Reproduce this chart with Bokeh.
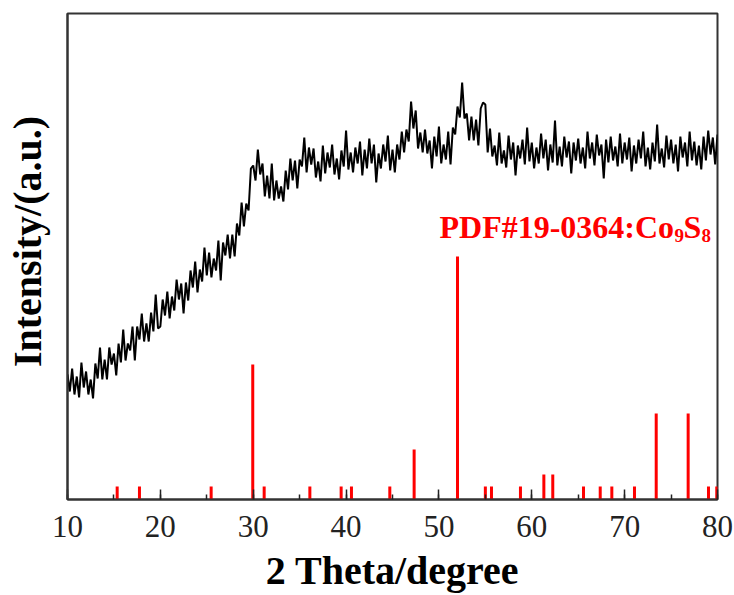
from bokeh.plotting import figure
from bokeh.models import Range1d, SingleIntervalTicker, FixedTicker, Label
from bokeh.embed import file_html
from bokeh.resources import INLINE

# ---- measured XRD pattern (2 theta from 10 to 80 deg, step 0.25 deg), arbitrary units
two_theta_start = 10.0
two_theta_step = 0.25
intensity = [
    125, 108, 131, 105, 123, 102, 137, 112, 128, 105, 120, 101, 136, 121, 152, 120, 140, 120, 152, 135,
    146, 124, 156, 137, 170, 139, 156, 149, 173, 139, 173, 160, 186, 158, 176, 158, 187, 168, 205, 171,
    173, 200, 184, 208, 181, 203, 189, 220, 200, 216, 186, 217, 199, 229, 212, 238, 207, 230, 218, 252,
    224, 247, 222, 241, 229, 259, 219, 257, 244, 265, 241, 265, 243, 276, 264, 297, 273, 296, 289, 331,
    334, 319, 350, 325, 336, 303, 324, 301, 336, 299, 319, 301, 313, 298, 329, 310, 341, 319, 339, 311,
    340, 333, 362, 327, 352, 335, 351, 322, 338, 318, 354, 326, 347, 332, 355, 325, 341, 320, 349, 333,
    369, 330, 347, 327, 352, 336, 358, 324, 350, 331, 361, 336, 355, 317, 346, 331, 355, 338, 364, 329,
    350, 327, 355, 340, 368, 347, 370, 358, 398, 371, 389, 351, 367, 347, 370, 346, 359, 331, 363, 343,
    373, 336, 355, 340, 368, 335, 372, 365, 393, 382, 417, 381, 386, 359, 383, 359, 380, 354, 391, 397,
    395, 347, 371, 343, 354, 334, 367, 336, 349, 332, 364, 340, 357, 324, 354, 341, 360, 335, 372, 338,
    357, 331, 352, 336, 366, 341, 360, 329, 355, 337, 379, 334, 353, 333, 363, 342, 358, 326, 357, 339,
    361, 336, 352, 331, 368, 341, 357, 334, 365, 344, 355, 321, 360, 337, 363, 339, 353, 333, 366, 336,
    357, 340, 362, 328, 354, 336, 360, 341, 368, 333, 352, 330, 357, 338, 375, 336, 351, 332, 364, 340,
    360, 336, 355, 328, 363, 342, 357, 333, 368, 339, 358, 334, 354, 330, 363, 339, 369, 345, 362, 335,
    365,
]
two_theta = [two_theta_start + two_theta_step * i for i in range(len(intensity))]

# ---- reference pattern PDF#19-0364 (Co9S8): positions and relative heights
pdf_positions = [15.35, 17.75, 25.47, 29.95, 31.18, 36.10, 39.47, 40.58, 44.71, 47.33, 52.00, 55.00,
                 55.66, 58.78, 61.30, 62.26, 65.57, 67.37, 68.62, 71.06, 73.40, 76.84, 79.03, 79.92]
pdf_heights = [13, 13, 13, 135, 13, 13, 13, 13, 13, 50, 243, 13,
               13, 13, 25, 25, 13, 13, 13, 13, 86, 86, 13, 13]
pdf_base = [0] * len(pdf_positions)

p = figure(width=734, height=595, output_backend="svg", toolbar_location=None,
           x_range=Range1d(10, 80), y_range=Range1d(0, 486),
           min_border_left=67, min_border_right=17, min_border_top=13, min_border_bottom=96)
p.background_fill_color = "white"
p.border_fill_color = "white"
p.outline_line_color = "#333333"
p.outline_line_width = 2
p.xgrid.visible = False
p.ygrid.visible = False

# XRD curve
p.line(two_theta, intensity, line_color="black", line_width=2.0, line_join="bevel")

# PDF sticks
p.segment(x0=pdf_positions, y0=pdf_base, x1=pdf_positions, y1=pdf_heights,
          line_color="#ff0000", line_width=3, line_cap="butt")

# x axis
xa = p.xaxis[0]
xa.ticker = SingleIntervalTicker(interval=10, num_minor_ticks=2)
xa.major_tick_in = 10
xa.major_tick_out = 0
xa.minor_tick_in = 5
xa.minor_tick_out = 0
xa.major_tick_line_color = "#222222"
xa.minor_tick_line_color = "#222222"
xa.major_tick_line_width = 1.5
xa.minor_tick_line_width = 1.5
xa.axis_line_color = "#333333"
xa.axis_line_width = 2
xa.major_label_text_font = "Liberation Serif"
xa.major_label_text_font_size = "31px"
xa.major_label_text_color = "#222222"
xa.major_label_standoff = 16
xa.axis_label = "2 Theta/degree"
xa.axis_label_text_font = "Liberation Serif"
xa.axis_label_text_font_style = "bold"
xa.axis_label_text_font_size = "40px"
xa.axis_label_text_color = "black"
xa.axis_label_standoff = 8

# y axis (no ticks)
ya = p.yaxis[0]
ya.ticker = FixedTicker(ticks=[])
ya.major_tick_line_color = None
ya.minor_tick_line_color = None
ya.major_label_text_font_size = "0px"
ya.major_label_standoff = 0
ya.axis_line_color = "#333333"
ya.axis_line_width = 2
ya.axis_label = "\u00a0\u00a0\u00a0Intensity/(a.u.)"
ya.axis_label_text_font = "Liberation Serif"
ya.axis_label_text_font_style = "bold"
ya.axis_label_text_font_size = "40px"
ya.axis_label_text_color = "black"
ya.axis_label_standoff = 18

# PDF label with subscripts
label_main_size = "32px"
label_sub_size = "19px"
for txt, x, y, size in [("PDF#19-0364:Co", 50.06, 273, label_main_size),
                        ("9", 75.37, 264, label_sub_size),
                        ("S", 76.34, 273, label_main_size),
                        ("8", 78.28, 264, label_sub_size)]:
    p.add_layout(Label(x=x, y=y, text=txt, text_font="Liberation Serif", text_font_style="bold",
                       text_font_size=size, text_color="#ff0000", text_baseline="alphabetic",
                       text_align="left"))

open("out.html", "w").write(file_html(p, INLINE))
